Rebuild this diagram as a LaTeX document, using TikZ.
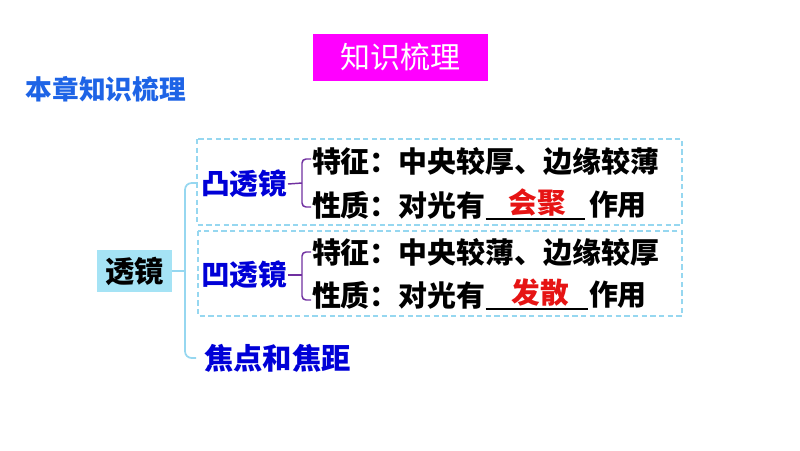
\documentclass[tikz,border=0pt]{standalone}
\usepackage{fontspec}
\newfontfamily\cjk{Noto Sans CJK SC}
\definecolor{magbox}{RGB}{255,0,255}
\definecolor{titleblue}{RGB}{30,100,230}
\definecolor{deepblue}{RGB}{0,0,215}
\definecolor{treeline}{RGB}{150,215,240}
\definecolor{lensfill}{RGB}{165,227,245}
\definecolor{bracepurple}{RGB}{112,48,160}
\definecolor{ansred}{RGB}{230,20,20}
\tikzset{
  every node/.style={inner sep=0pt, outer sep=0pt},
  bluehead/.style={font=\cjk\bfseries\fontsize{21.5}{24}\selectfont, text=deepblue, anchor=west},
  itemtext/.style={font=\cjk\bfseries\fontsize{21.7}{24}\selectfont, text=black, anchor=west},
  answer/.style={font=\cjk\bfseries\fontsize{21.5}{24}\selectfont, text=ansred},
  dashbox/.style={draw=treeline, dashed, line width=0.9pt, dash pattern=on 4pt off 2.5pt},
  trunk/.style={draw=treeline, line width=1.3pt, rounded corners=5pt},
  bracestyle/.style={draw=bracepurple, line width=1.1pt, rounded corners=3pt},
  blankline/.style={draw=black, line width=0.8pt}
}
\begin{document}
\begin{tikzpicture}[x=0.75pt,y=-0.75pt]
\useasboundingbox (0,0) rectangle (800,450);
% title box
\node[fill=magbox, minimum width=175*0.75pt, minimum height=47*0.75pt, font=\cjk\fontsize{22.5}{26}\selectfont, text=white] (title) at (400.5,57) {知识梳理};
% section heading
\node[font=\cjk\bfseries\fontsize{20}{24}\selectfont, text=titleblue, anchor=west] (heading) at (26,89) {本章知识梳理};
% dashed boxes
\draw[dashbox] (197,139) rectangle (682,225);
\draw[dashbox] (198,231) rectangle (682,316);
% root
\node[fill=lensfill, minimum width=75*0.75pt, minimum height=42*0.75pt, font=\cjk\bfseries\fontsize{22}{24}\selectfont] (lens) at (134.5,271) {透镜};
% branches
\node[bluehead] (convex) at (201,184) {凸透镜};
\node[bluehead] (concave) at (201,275) {凹透镜};
\node[bluehead, font=\cjk\bfseries\fontsize{22}{24}\selectfont] (focus) at (204,358) {焦点和焦距};
\coordinate (tr) at (185,271);
\draw[trunk] (lens.east) -- (tr);
\draw[trunk] (convex.west) ++(-4,-1) -- (185,183) -- (185,358) -- ([xshift=-6]focus.west);
% braces
\coordinate (b1) at (302,183);
\draw[bracestyle] (convex.east) ++(1,0) -- (b1);
\draw[bracestyle] (311,159) -- (302,159) -- (302,207) -- (311,207);
\coordinate (b2) at (302,275);
\draw[bracestyle] (concave.east) ++(1,0) -- (b2);
\draw[bracestyle] (311,252) -- (302,252) -- (302,300) -- (311,300);
% convex items
\node[itemtext] (c1) at (312,162) {特征：中央较厚、边缘较薄};
\node[itemtext] (c2) at (312,205) {性质：对光有};
\node[answer] (c2a) at (537,203) {会聚};
\node[itemtext] (c2b) at (589,205) {作用};
\draw[blankline] (c2.east |- 0,219) -- (585,219);
% concave items
\node[itemtext] (d1) at (312,253) {特征：中央较薄、边缘较厚};
\node[itemtext] (d2) at (312,295) {性质：对光有};
\node[answer] (d2a) at (540,293) {发散};
\node[itemtext] (d2b) at (589,295) {作用};
\draw[blankline] (d2.east |- 0,309) -- (588,309);
\end{tikzpicture}
\end{document}
